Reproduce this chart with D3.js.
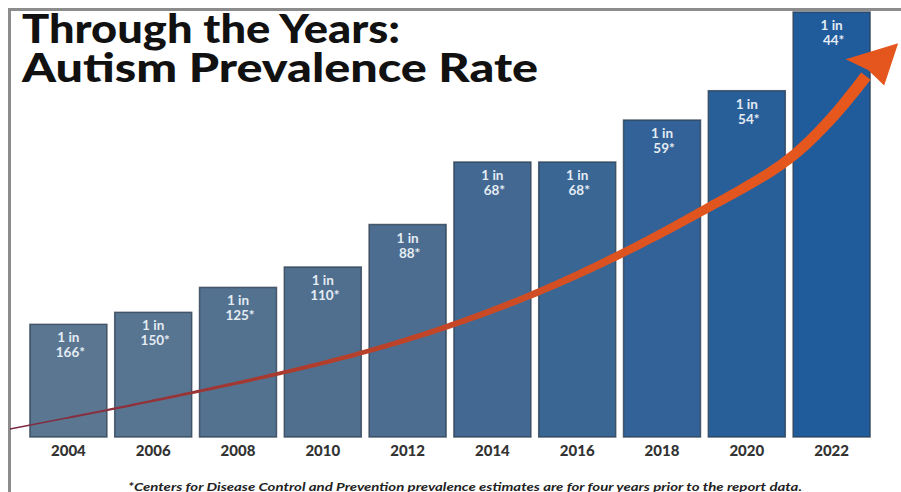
<!DOCTYPE html>
<html><head><meta charset="utf-8">
<script src="https://cdn.jsdelivr.net/npm/d3@7"></script>
<style>
html,body{margin:0;padding:0;background:#fff;}
svg{display:block;}
</style></head>
<body>
<svg id="chart" width="901" height="492"></svg>
<script>
// ---- data ----
const years = ["2004","2006","2008","2010","2012","2014","2016","2018","2020","2022"];
const oneIn = [166,150,125,110,88,68,68,59,54,44];
const titleLines = ["Through the Years:", "Autism Prevalence Rate"];
const footnote = "*Centers for Disease Control and Prevention prevalence estimates are for four years prior to the report data.";
// trend arrow shaft (year position, value per 1000)
const trendYears  = [2002.62, 2004.91, 2007.10, 2008.92, 2010.90, 2012.90, 2014.91, 2016.89, 2018.90, 2020.90, 2021.96, 2022.81];
const trendValues = [0.43, 1.44, 2.46, 3.37, 4.49, 5.88, 7.59, 9.63, 12.03, 14.71, 16.95, 19.30];
// arrow head: left barb, tip, right barb, notch
const headYears  = [2022.33, 2023.57, 2023.24, 2022.86];
const headValues = [20.20, 21.05, 18.80, 19.63];

const rate = oneIn.map(n => 1000 / n);

const svg = d3.select("#chart");
const W = 901, H = 492;

const x = d3.scaleBand().domain(years).range([26, 874]).paddingInner(0.092).paddingOuter(0.046);
const bw = x.bandwidth();
const y = d3.scaleLinear().domain([0, 1000 / 44]).range([437, 12]);
const xYear = d3.scaleLinear().domain([2004, 2022]).range([x("2004") + bw / 2, x("2022") + bw / 2]);
const color = d3.scaleLinear().domain([0, 4, 9]).range(["#5a7690", "#4c6d8f", "#205b9c"]);

// frame
svg.append("line").attr("x1", 8).attr("x2", W).attr("y1", 9.5).attr("y2", 9.5)
  .attr("stroke", "#8c8c8c").attr("stroke-width", 3);
svg.append("line").attr("x1", 9.5).attr("x2", 9.5).attr("y1", 8).attr("y2", H)
  .attr("stroke", "#8c8c8c").attr("stroke-width", 3);

// title (one text element, two lines)
const titleWidths = [378, 516];
const title = svg.append("text")
  .attr("font-family", "Lato, 'Open Sans', sans-serif").attr("font-weight", 900)
  .attr("font-size", 39).attr("fill", "#111");
titleLines.forEach((t, i) => {
  title.append("tspan").attr("x", 22).attr("y", 43 + i * 39)
    .attr("textLength", titleWidths[i]).attr("lengthAdjust", "spacingAndGlyphs")
    .text(t);
});

// bars
const bars = svg.append("g");
bars.selectAll("rect").data(years).join("rect")
  .attr("x", d => x(d)).attr("width", bw)
  .attr("y", (d, i) => y(rate[i])).attr("height", (d, i) => y(0) - y(rate[i]))
  .attr("fill", (d, i) => color(i))
  .attr("stroke", "#2b3b4e").attr("stroke-opacity", 0.75).attr("stroke-width", 1.5);

// labels in bars
const lab = svg.append("g").attr("font-family", "Lato, 'Open Sans', sans-serif")
  .attr("font-weight", 700).attr("font-size", 13.5).attr("text-anchor", "middle")
  .attr("fill", "#e4ecf4");
years.forEach((d, i) => {
  const cx = x(d) + bw / 2, top = y(rate[i]);
  lab.append("text").attr("x", cx).attr("y", top + 18).text("1 in");
  lab.append("text").attr("x", cx + 2).attr("y", top + 33).text(oneIn[i] + "*");
});

// year axis labels
svg.append("g").selectAll("text").data(years).join("text")
  .attr("x", d => x(d) + bw / 2).attr("y", 455.5)
  .attr("text-anchor", "middle").attr("font-family", "Lato, 'Open Sans', sans-serif")
  .attr("font-weight", 900).attr("font-size", 15).attr("fill", "#333")
  .text(d => d);

// footnote
svg.append("text").attr("x", 128).attr("y", 491)
  .attr("font-family", "Lato, 'Open Sans', sans-serif").attr("font-style", "italic")
  .attr("font-weight", 700).attr("font-size", 11).attr("fill", "#222")
  .attr("textLength", 674).attr("lengthAdjust", "spacingAndGlyphs")
  .text(footnote);

// trend arrow
const defs = svg.append("defs");
const grad = defs.append("linearGradient").attr("id", "ag").attr("gradientUnits", "userSpaceOnUse")
  .attr("x1", 10).attr("x2", 880).attr("y1", 0).attr("y2", 0);
grad.append("stop").attr("offset", 0).attr("stop-color", "#7a2a45");
grad.append("stop").attr("offset", 0.35).attr("stop-color", "#b03d2c");
grad.append("stop").attr("offset", 0.7).attr("stop-color", "#dd5320");
grad.append("stop").attr("offset", 1).attr("stop-color", "#e8581c");

const pts = trendYears.map((t, i) => [xYear(t), y(trendValues[i])]);
const lineGen = d3.line().curve(d3.curveCatmullRom.alpha(0.5));
const tmp = svg.append("path").attr("d", lineGen(pts)).attr("fill", "none").attr("stroke", "none");
const node = tmp.node();
const L = node.getTotalLength();
const N = 240;
const left = [], right = [];
for (let k = 0; k <= N; k++) {
  const s = L * k / N;
  const p = node.getPointAtLength(s);
  const p2 = node.getPointAtLength(Math.min(L, s + 1));
  const p1 = node.getPointAtLength(Math.max(0, s - 1));
  let dx = p2.x - p1.x, dy = p2.y - p1.y;
  const len = Math.hypot(dx, dy) || 1; dx /= len; dy /= len;
  const t = k / N;
  const w = 1.4 + 10.5 * Math.pow(t, 1.2);
  left.push([p.x - dy * w / 2, p.y + dx * w / 2]);
  right.push([p.x + dy * w / 2, p.y - dx * w / 2]);
}
tmp.remove();
svg.append("path").attr("d", d3.line()(left.concat(right.reverse())) + "Z")
  .attr("fill", "url(#ag)");
// head
const headPts = headYears.map((t, i) => [xYear(t), y(headValues[i])]);
svg.append("path").attr("d", d3.line()(headPts) + "Z").attr("fill", "#e4561d");
</script>
</body></html>
